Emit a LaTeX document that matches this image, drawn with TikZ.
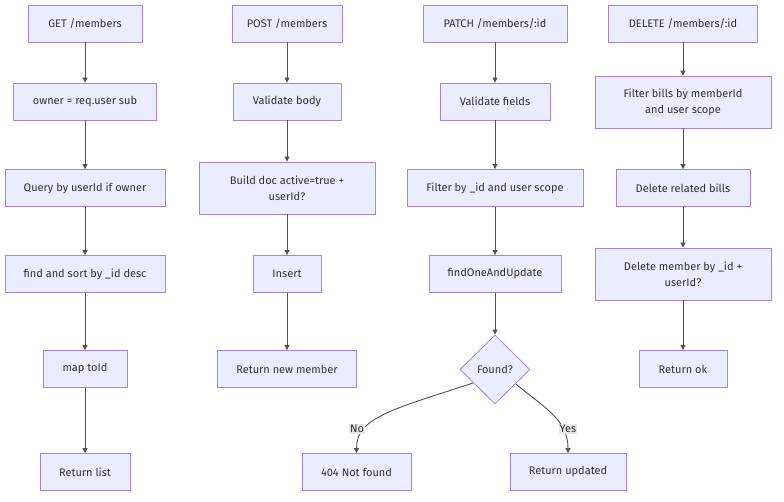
\documentclass[tikz,border=0pt]{standalone}
\usepackage{fontspec}
\setmainfont{Fira Sans}
\usetikzlibrary{arrows.meta,shapes.geometric}
\definecolor{boxfill}{HTML}{ECECFF}
\definecolor{boxline}{HTML}{9370DB}
\definecolor{edgecol}{HTML}{333333}
\definecolor{labelbg}{HTML}{E8E8E8}
\tikzset{
  box/.style={draw=boxline!85, fill=boxfill, line width=0.8pt, align=center,
    inner sep=0pt, minimum height=37pt, font=\fontsize{11}{16}\selectfont, text=edgecol},
  tall/.style={minimum height=52pt},
  decision/.style={diamond, draw=boxline!85, fill=boxfill, line width=0.8pt, inner sep=0pt,
    minimum width=70pt, minimum height=69pt, font=\fontsize{11}{16}\selectfont, text=edgecol},
  flow/.style={draw=edgecol!85, line width=0.9pt, -{Triangle[length=5pt,width=5pt]}},
  edgelabel/.style={fill=labelbg, inner sep=1pt, font=\fontsize{11}{13}\selectfont, text=edgecol}
}
\begin{document}
\begin{tikzpicture}[x=1pt, y=-1pt]
\useasboundingbox (0,0) rectangle (784,502);
\fill[white] (0,0) rectangle (784,502);

% GET /members
\node[box, minimum width=114pt] (g1) at (85,23.5) {GET /members};
\node[box, minimum width=143pt] (g2) at (85,101.5) {owner = req.user sub};
\node[box, minimum width=160pt] (g3) at (85,188) {Query by userId if owner};
\node[box, minimum width=160pt] (g4) at (85,274) {find and sort by \_id desc};
\node[box, minimum width=84pt] (g5) at (85,369) {map toId};
\node[box, minimum width=90pt] (g6) at (85,472) {Return list};

% POST /members
\node[box, minimum width=110pt] (p1) at (287,23.5) {POST /members};
\node[box, minimum width=108pt] (p2) at (287,101.5) {Validate body};
\node[box, tall, minimum width=176pt] (p3) at (287,188) {Build doc active=true +\\userId?};
\node[box, minimum width=68pt] (p4) at (287,274) {Insert};
\node[box, minimum width=139pt] (p5) at (287,369) {Return new member};

% PATCH /members/:id
\node[box, minimum width=144pt] (q1) at (495,23.5) {PATCH /members/:id};
\node[box, minimum width=110pt] (q2) at (495,101.5) {Validate fields};
\node[box, minimum width=176pt] (q3) at (495,188) {Filter by \_id and user scope};
\node[box, minimum width=132pt] (q4) at (495,274) {findOneAndUpdate};
\node[decision] (q5) at (495,369.5) {Found?};
\node[box, minimum width=109pt] (q6) at (356.5,472) {404 Not found};
\node[box, minimum width=116pt] (q7) at (568,472) {Return updated};

% DELETE /members/:id
\node[box, minimum width=149pt] (d1) at (683,23.5) {DELETE /members/:id};
\node[box, tall, minimum width=176pt] (d2) at (683,102) {Filter bills by memberId\\and user scope};
\node[box, minimum width=134pt] (d3) at (683,188) {Delete related bills};
\node[box, tall, minimum width=176pt] (d4) at (683,274) {Delete member by \_id +\\userId?};
\node[box, minimum width=88pt] (d5) at (683,369) {Return ok};

% straight connectors
\foreach \a/\b in {g1/g2,g2/g3,g3/g4,g4/g5,g5/g6,
                   p1/p2,p2/p3,p3/p4,p4/p5,
                   q1/q2,q2/q3,q3/q4,q4/q5,
                   d1/d2,d2/d3,d3/d4,d4/d5}
  \draw[flow] (\a) -- (\b);

% branches out of the decision
\coordinate (nostart) at (q5.south west);
\coordinate (yesstart) at (q5.south east);
\draw[flow] ([shift={(-4,-4)}]nostart) .. controls (390,410) and (356.5,418) .. (q6.north);
\draw[flow] ([shift={(3,-3)}]yesstart) .. controls (545,408) and (568,420) .. (q7.north);
\node[edgelabel] (nolabel) at (357,429) {No};
\node[edgelabel] (yeslabel) at (568,429) {Yes};
\end{tikzpicture}
\end{document}
